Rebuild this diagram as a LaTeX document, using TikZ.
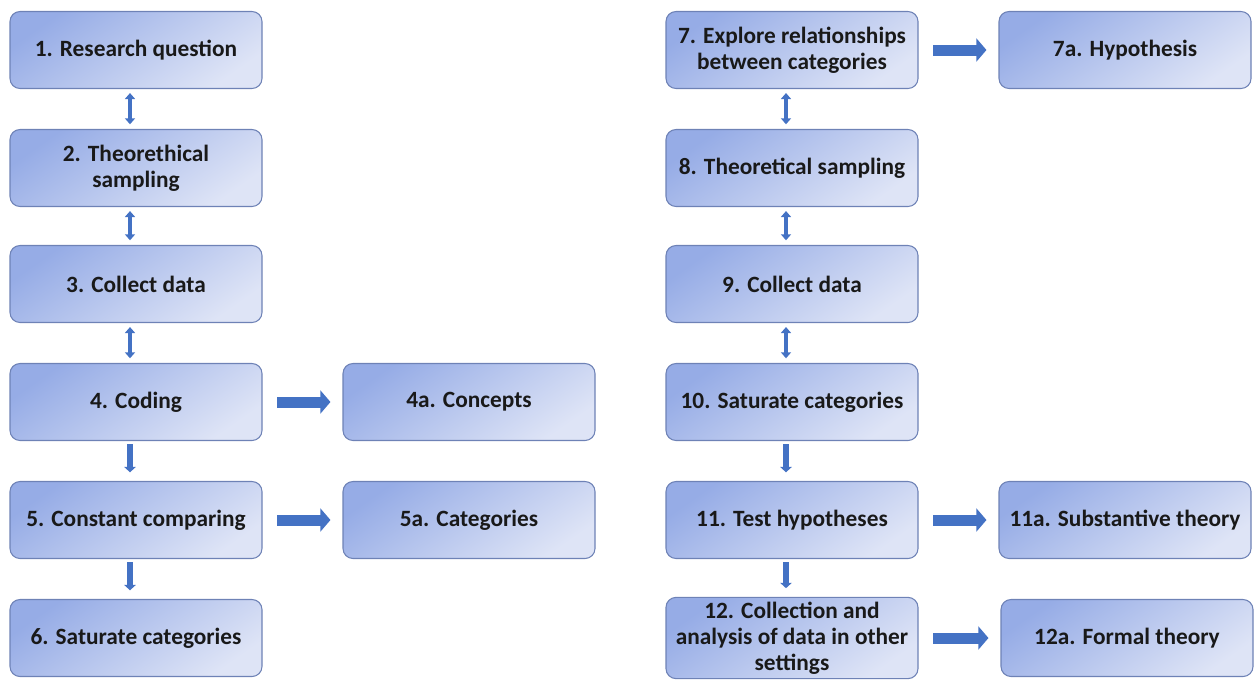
\documentclass[tikz,border=0pt]{standalone}
\usepackage{fontspec}
\setmainfont{Carlito}
\usepackage{tikz}
\usetikzlibrary{arrows.meta}
\definecolor{boxtop}{RGB}{150,172,230}
\definecolor{boxbottom}{RGB}{222,228,246}
\definecolor{boxline}{RGB}{110,130,182}
\definecolor{arrowblue}{RGB}{68,114,196}
\tikzset{
    stepbox/.style={draw=boxline, line width=0.8pt, rounded corners=7.5pt,
        top color=boxtop, bottom color=boxbottom, shading angle=35,
        minimum width=189pt, minimum height=57.75pt, align=center,
        font=\fontsize{17.5}{19.5}\selectfont\bfseries, text=black!90},
    twoway/.style={arrowblue, line width=2.4pt,
        {Triangle[length=4.5pt,width=7.5pt]}-{Triangle[length=4.5pt,width=7.5pt]},
        shorten <=3pt, shorten >=3.5pt, transform canvas={xshift=-4.5pt}},
    oneway/.style={arrowblue, line width=4.5pt,
        -{Triangle[length=4pt,width=8.5pt]}, shorten <=2.5pt, shorten >=6.5pt,
        transform canvas={xshift=-4.5pt}},
    fatarrow/.style={arrowblue, line width=8.25pt,
        -{Triangle[length=7.5pt,width=17pt]}, shorten <=11pt, shorten >=9pt}
}
\begin{document}
\begin{tikzpicture}[x=0.75pt, y=-0.75pt]
    \useasboundingbox (0,0) rectangle (1257,679);
    % left column
    \node[stepbox] (1) at (136,50) {1. Research question};
    \node[stepbox] (2) at (136,168) {2. Theorethical\\sampling};
    \node[stepbox] (3) at (136,284) {3. Collect data};
    \node[stepbox] (4) at (136,402) {4. Coding};
    \node[stepbox] (5) at (136,520) {5. Constant comparing};
    \node[stepbox] (6) at (136,638) {6. Saturate categories};
    \node[stepbox] (4a) at (469,402) {4a. Concepts};
    \node[stepbox] (5a) at (469,520) {5a. Categories};
    % right column
    \node[stepbox] (7) at (792,50) {7. Explore relationships\\between categories};
    \node[stepbox] (8) at (792,168) {8. Theoretical sampling};
    \node[stepbox] (9) at (792,284) {9. Collect data};
    \node[stepbox] (10) at (792,402) {10. Saturate categories};
    \node[stepbox] (11) at (792,520) {11. Test hypotheses};
    \node[stepbox] (12) at (792,638) {12. Collection and\\analysis of data in other\\settings};
    \node[stepbox] (7a) at (1125,50) {7a. Hypothesis};
    \node[stepbox] (11a) at (1125,520) {11a. Substantive theory};
    \node[stepbox] (12a) at (1127,638) {12a. Formal theory};

    \path
    (1) edge[twoway] (2)
    (2) edge[twoway] (3)
    (3) edge[twoway] (4)
    (4) edge[oneway] (5)
    (5) edge[oneway] (6)
    (4) edge[fatarrow] (4a)
    (5) edge[fatarrow] (5a)
    (7) edge[twoway] (8)
    (8) edge[twoway] (9)
    (9) edge[twoway] (10)
    (10) edge[oneway] (11)
    (11) edge[oneway] (12)
    (7) edge[fatarrow] (7a)
    (11) edge[fatarrow] (11a)
    (12) edge[fatarrow] (12a);
\end{tikzpicture}
\end{document}
